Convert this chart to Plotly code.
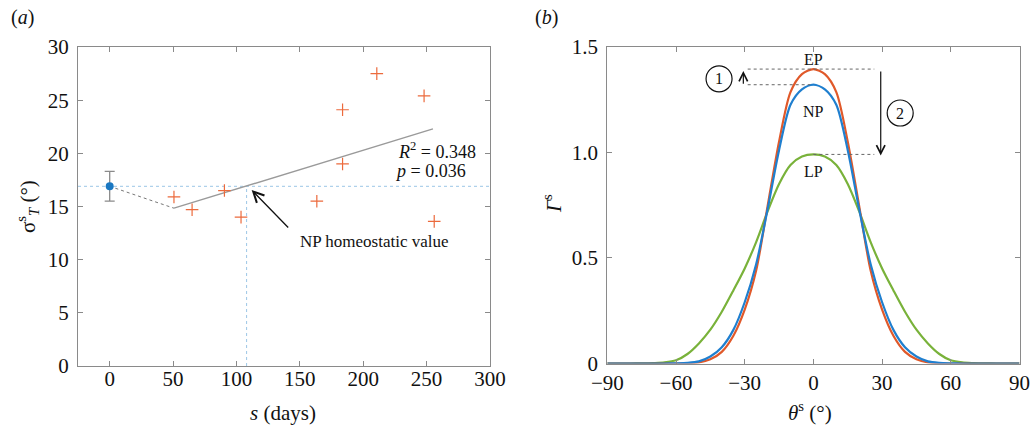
import plotly.graph_objects as go

W, H = 1034, 428

# ---------------- Panel (a) data ----------------
s_days = [50.7, 65, 90.5, 103.6, 163.4, 183.7, 183.7, 210.7, 248, 256]
sigma_vals = [15.9, 14.7, 16.5, 14.0, 15.5, 19.0, 24.1, 27.5, 25.4, 13.6]
np_s = [0]
np_sigma = [16.9]
np_err_plus = [1.4]
np_err_minus = [1.4]
reg_s = [50.7, 255]
reg_sigma = [14.84, 22.3]
link_s = [0, 50.7]
link_sigma = [16.9, 14.84]
homeo_s = 108
homeo_sigma = 16.9
xticks_a = [0, 50, 100, 150, 200, 250, 300]
yticks_a = [0, 5, 10, 15, 20, 25, 30]

# ---------------- Panel (b) data ----------------
theta = [-90, -85, -80, -75, -70, -65, -60, -55, -50, -45, -40, -35, -30, -25, -20, -15, -10, -5, 0,
         5, 10, 15, 20, 25, 30, 35, 40, 45, 50, 55, 60, 65, 70, 75, 80, 85, 90]
gamma_EP = [0, 0, 0, 0, 0, 0, 0, 0.001, 0.005, 0.02, 0.055, 0.13, 0.255, 0.44, 0.745, 1.05, 1.285, 1.37, 1.394,
            1.37, 1.285, 1.05, 0.745, 0.44, 0.255, 0.13, 0.055, 0.02, 0.005, 0.001, 0, 0, 0, 0, 0, 0, 0]
gamma_NP = [0, 0, 0, 0, 0, 0, 0.001, 0.003, 0.01, 0.033, 0.077, 0.158, 0.29, 0.47, 0.73, 1.01, 1.225, 1.298, 1.32,
            1.298, 1.225, 1.01, 0.73, 0.47, 0.29, 0.158, 0.077, 0.033, 0.01, 0.003, 0.001, 0, 0, 0, 0, 0, 0]
gamma_LP = [0, 0, 0, 0.0005, 0.002, 0.005, 0.015, 0.045, 0.095, 0.16, 0.245, 0.345, 0.45, 0.575, 0.72, 0.85, 0.94, 0.98, 0.99,
            0.98, 0.94, 0.85, 0.72, 0.575, 0.45, 0.345, 0.245, 0.16, 0.095, 0.045, 0.015, 0.005, 0.002, 0.0005, 0, 0, 0]
xticks_b = [-90, -60, -30, 0, 30, 60, 90]
yticks_b = [0, 0.5, 1.0, 1.5]
yticklabels_b = ["0", "0.5", "1.0", "1.5"]
peak_EP, peak_NP, peak_LP = 1.394, 1.32, 0.99

ORANGE_PTS = "#ec6a3c"
C_EP = "#e0592a"
C_NP = "#1f7fcf"
C_LP = "#79b23a"
AX = "#8a8a8a"
FONT = "Liberation Serif"


def px(x):
    return x / W


def py(y):
    return 1 - y / H


fig = go.Figure()

# ---- panel (a)
fig.add_trace(go.Scatter(x=[-25, 300], y=[homeo_sigma, homeo_sigma], mode="lines",
                         line=dict(color="#9cc6e6", width=1, dash="dot"),
                         xaxis="x", yaxis="y", showlegend=False))
fig.add_trace(go.Scatter(x=[homeo_s, homeo_s], y=[0, homeo_sigma], mode="lines",
                         line=dict(color="#9cc6e6", width=1, dash="dot"),
                         xaxis="x", yaxis="y", showlegend=False))
fig.add_trace(go.Scatter(x=link_s, y=link_sigma, mode="lines",
                         line=dict(color="#777777", width=1, dash="dot"),
                         xaxis="x", yaxis="y", showlegend=False))
fig.add_trace(go.Scatter(x=reg_s, y=reg_sigma, mode="lines",
                         line=dict(color="#9a9a9a", width=1.4),
                         xaxis="x", yaxis="y", showlegend=False))
fig.add_trace(go.Scatter(x=s_days, y=sigma_vals, mode="markers",
                         marker=dict(symbol="cross-thin", size=9,
                                     line=dict(color=ORANGE_PTS, width=1.2)),
                         xaxis="x", yaxis="y", showlegend=False))
fig.add_trace(go.Scatter(x=np_s, y=np_sigma, mode="markers",
                         marker=dict(color="#1a78c2", size=8),
                         error_y=dict(type="data", array=np_err_plus, arrayminus=np_err_minus,
                                      color="#8a8a8a", thickness=1.3, width=5),
                         xaxis="x", yaxis="y", showlegend=False))

# ---- panel (b)
for g, c in [(gamma_LP, C_LP), (gamma_EP, C_EP), (gamma_NP, C_NP)]:
    fig.add_trace(go.Scatter(x=theta, y=g, mode="lines", line=dict(color=c, width=2.2, shape="spline", smoothing=0.8),
                             xaxis="x2", yaxis="y2", showlegend=False))
dot = dict(color="#666666", width=1, dash="dot")
fig.add_trace(go.Scatter(x=[-28.7, 26.6], y=[peak_EP, peak_EP], mode="lines", line=dot,
                         xaxis="x2", yaxis="y2", showlegend=False))
fig.add_trace(go.Scatter(x=[-28.7, -1.4], y=[peak_NP, peak_NP], mode="lines", line=dot,
                         xaxis="x2", yaxis="y2", showlegend=False))
fig.add_trace(go.Scatter(x=[0, 26.6], y=[peak_LP, peak_LP], mode="lines", line=dot,
                         xaxis="x2", yaxis="y2", showlegend=False))

axis_common = dict(showgrid=False, zeroline=False, showline=True, linecolor=AX, linewidth=1,
                   mirror="ticks", ticks="inside", ticklen=5, tickcolor=AX, tickwidth=1,
                   automargin=False,
                   tickfont=dict(family=FONT, size=21, color="#111111"))

fig.update_layout(
    width=W, height=H, margin=dict(l=0, r=0, t=0, b=0, autoexpand=False),
    plot_bgcolor="white", paper_bgcolor="white",
    xaxis=dict(domain=[px(78), px(490)], range=[-25, 300], tickvals=xticks_a, anchor="y",
               ticklabelstandoff=-6, **axis_common),
    yaxis=dict(domain=[py(366), py(47)], range=[0, 30], tickvals=yticks_a, anchor="x",
               ticklabelstandoff=4, **axis_common),
    xaxis2=dict(domain=[px(607.3), px(1019.5)], range=[-90, 90], tickvals=xticks_b, anchor="y2",
                ticklabelstandoff=0, **axis_common),
    yaxis2=dict(domain=[py(363.5), py(46.7)], range=[0, 1.5], tickvals=yticks_b, ticktext=yticklabels_b,
                anchor="x2", ticklabelstandoff=4, **axis_common),
)

ann = []
tf = lambda s: dict(family=FONT, size=s, color="#111111")


def lab(x, y, text, size, **kw):
    d = dict(x=px(x), y=py(y), xref="paper", yref="paper", text=text, showarrow=False,
             xanchor="center", yanchor="middle", font=tf(size))
    d.update(kw)
    ann.append(d)


# panel labels
lab(22, 18, "(<i>a</i>)", 20)
lab(546, 18, "(<i>b</i>)", 20)
# axis titles
lab(283, 413, "<i>s</i> (days)", 21)
lab(27, 207, "σ<sup>s</sup><sub><i>T</i></sub> (°)", 21, textangle=-90)
lab(810, 411, "<i>θ</i><sup>s</sup> (°)", 21)
lab(553, 204, "<i>Γ</i><sup>s</sup>", 21, textangle=-90)
# panel (a) texts
lab(437, 150, "<i>R</i><sup>2</sup> = 0.348", 18)
lab(430, 171, "<i>p</i> = 0.036", 18)
lab(374, 241, "NP homeostatic value", 17)
ann.append(dict(x=112, y=16.55, xref="x", yref="y", ax=38, ay=39, axref="pixel", ayref="pixel", text="",
                showarrow=True, arrowhead=5, arrowsize=1.6, arrowwidth=1.3, arrowcolor="#111111"))


def dlab(x, y, text, size):
    ann.append(dict(x=x, y=y, xref="x2", yref="y2", text=text, showarrow=False,
                    xanchor="center", yanchor="middle", font=tf(size)))


# panel (b) texts
dlab(0, 1.438, "EP", 16)
dlab(0, 1.193, "NP", 16)
dlab(0, 0.909, "LP", 16)
ann.append(dict(x=-30.6, y=1.385, xref="x2", yref="y2", ax=-30.6, ay=1.318, axref="x2", ayref="y2", text="",
                showarrow=True, arrowhead=5, arrowsize=1.4, arrowwidth=1.2, arrowcolor="#111111"))
ann.append(dict(x=29.4, y=0.985, xref="x2", yref="y2", ax=29.4, ay=1.39, axref="x2", ayref="y2", text="",
                showarrow=True, arrowhead=5, arrowsize=1.4, arrowwidth=1.2, arrowcolor="#111111"))
dlab(-41.2, 1.348, "1", 16)
dlab(37.9, 1.186, "2", 16)
fig.update_layout(annotations=ann)

for cx, cy in [(-41.2, 1.348), (37.9, 1.186)]:
    fig.add_shape(type="circle", xref="x2", yref="y2", xsizemode="pixel", ysizemode="pixel",
                  xanchor=cx, yanchor=cy, x0=-13, x1=13, y0=-13, y1=13,
                  line=dict(color="#111111", width=1.2))

fig.write_html("out.html")
